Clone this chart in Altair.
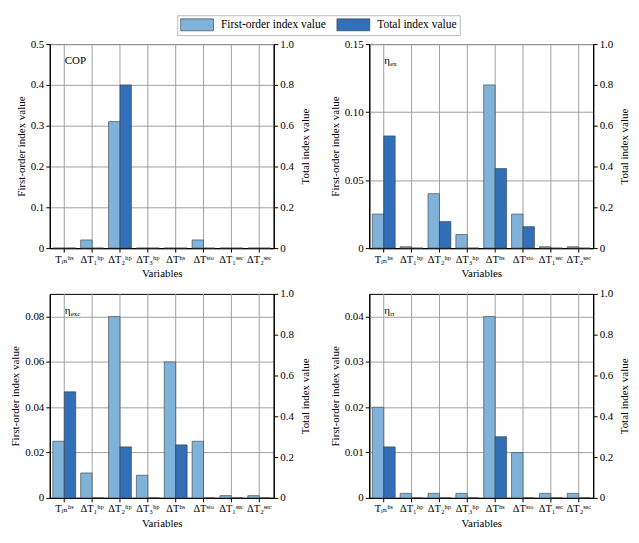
import altair as alt
import pandas as pd

variables = ["Tᵢₙʰˢ", "ΔT₁ʰᵖ", "ΔT₂ʰᵖ", "ΔT₃ʰᵖ", "ΔTʰˢ", "ΔTˢᵗᵒ", "ΔT₁ˢᵉᶜ", "ΔT₂ˢᵉᶜ"]
series_names = ["First-order index value", "Total index value"]
colors = ["#80b3d9", "#3170b9"]

cop_first = [0, 0.02, 0.31, 0, 0, 0.02, 0, 0]
cop_total = [0, 0, 0.80, 0, 0, 0, 0, 0]
ex_first = [0.025, 0.001, 0.040, 0.010, 0.120, 0.025, 0.001, 0.001]
ex_total = [0.55, 0, 0.13, 0, 0.39, 0.105, 0, 0]
exc_first = [0.025, 0.011, 0.080, 0.010, 0.060, 0.025, 0.001, 0.001]
exc_total = [0.52, 0, 0.25, 0, 0.26, 0, 0, 0]
rt_first = [0.020, 0.001, 0.001, 0.001, 0.040, 0.010, 0.001, 0.001]
rt_total = [0.25, 0, 0, 0, 0.30, 0, 0, 0]

total_ticks = [0, 0.2, 0.4, 0.6, 0.8, 1.0]

FONT = "'Liberation Serif', 'Times New Roman', 'DejaVu Serif', serif"
FS = 11
W, H = 225, 205


def panel(first, total, ymax, ticks, dec, label, sub=None):
    df = pd.DataFrame({"variable": variables, "first": first, "total": total})
    xenc = alt.X(
        "variable:N", sort=variables,
        scale=alt.Scale(paddingInner=0, paddingOuter=0.02),
        axis=alt.Axis(title="Variables", labelAngle=0, grid=False,
                      labelFontSize=10.5, titlePadding=3),
    )
    color = alt.Color(
        "series:N",
        scale=alt.Scale(domain=series_names, range=colors),
        legend=alt.Legend(
            title=None, orient="none", direction="horizontal",
            legendX=128, legendY=-29,
            symbolType="M-1,-1L4.5,-1L4.5,1L-1,1Z",
            symbolSize=144, symbolStrokeColor="#333", symbolStrokeWidth=0.6,
            labelFont=FONT, labelFontSize=11.5, labelColor="black",
            strokeColor="#bbbbbb", padding=3, columnPadding=9, labelOffset=28,
        ),
    )
    vgrid = (
        alt.Chart(df)
        .mark_rule(color="#a0a0a0", strokeWidth=1)
        .encode(x=xenc)
    )
    b1 = (
        alt.Chart(df)
        .transform_calculate(series="'First-order index value'")
        .mark_bar(width=11.5, xOffset=-5.75, stroke="#3a3a3a", strokeWidth=0.6)
        .encode(
            x=xenc,
            y=alt.Y("first:Q", scale=alt.Scale(domain=[0, ymax], nice=False),
                    axis=alt.Axis(values=ticks, title="First-order index value", grid=True,
                                  labelExpr=f"datum.value == 0 ? '0' : format(datum.value, '.{dec}f')")),
            color=color,
        )
    )
    b2 = (
        alt.Chart(df)
        .transform_calculate(series="'Total index value'")
        .mark_bar(width=11.5, xOffset=5.75, stroke="#3a3a3a", strokeWidth=0.6)
        .encode(
            x=xenc,
            y=alt.Y("total:Q", scale=alt.Scale(domain=[0, 1], nice=False),
                    axis=alt.Axis(values=total_ticks, title="Total index value", grid=False, orient="right",
                                  titleAngle=270, titleBaseline="top", titlePadding=6,
                                  labelExpr="datum.value == 0 ? '0' : format(datum.value, '.1f')")),
            color=color,
        )
    )
    t = (
        alt.Chart(pd.DataFrame({"t": [label]}))
        .mark_text(align="left", baseline="middle", font=FONT, fontSize=11, color="black")
        .encode(text="t:N", x=alt.value(15), y=alt.value(17))
    )
    layers = [vgrid, b1, b2, t]
    if sub:
        t2 = (
            alt.Chart(pd.DataFrame({"t": [sub]}))
            .mark_text(align="left", baseline="middle", font=FONT, fontSize=7, color="black")
            .encode(text="t:N", x=alt.value(21), y=alt.value(20))
        )
        layers.append(t2)
    return alt.layer(*layers).resolve_scale(y="independent").properties(width=W, height=H)


p1 = panel(cop_first, cop_total, 0.5, [0, 0.1, 0.2, 0.3, 0.4, 0.5], 1, "COP")
p2 = panel(ex_first, ex_total, 0.15, [0, 0.05, 0.10, 0.15], 2, "η", "ex")
p3 = panel(exc_first, exc_total, 0.09, [0, 0.02, 0.04, 0.06, 0.08], 2, "η", "exc")
p4 = panel(rt_first, rt_total, 0.045, [0, 0.01, 0.02, 0.03, 0.04], 2, "η", "rt")

chart = (
    alt.vconcat(
        alt.hconcat(p1, p2, spacing=17),
        alt.hconcat(p3, p4, spacing=17),
        spacing=8,
    )
    .properties(padding={"left": 1, "top": 5, "right": 0, "bottom": 0})
    .configure_view(stroke="black", strokeWidth=1)
    .configure_axis(
        labelFont=FONT, titleFont=FONT, labelFontSize=FS, titleFontSize=FS,
        labelColor="black", titleColor="black", titleFontWeight="normal",
        domainColor="black", domainWidth=1.2, tickColor="black", tickSize=4,
        gridColor="#a0a0a0", gridWidth=1,
    )
)

chart.save("out.html", embed_options={"renderer": "svg", "actions": False})
